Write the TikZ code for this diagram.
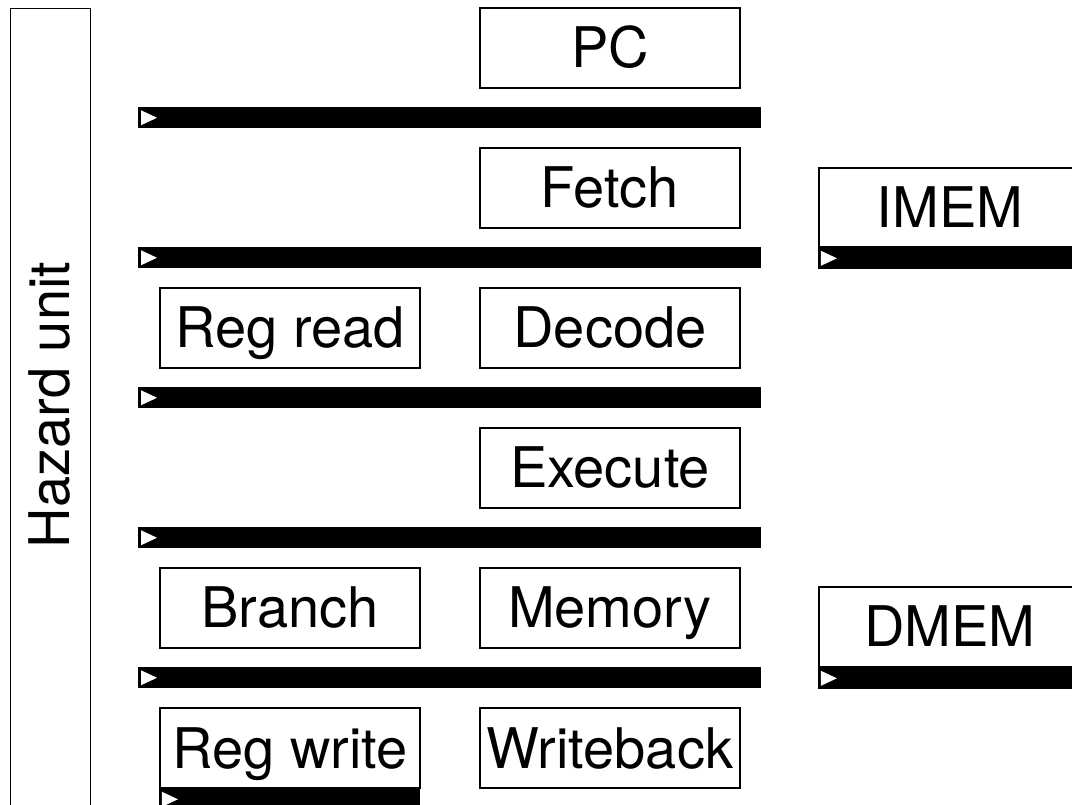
\documentclass[tikz,border=0pt]{standalone}
\usepackage{fontspec}
\setmainfont{TeX Gyre Heros}
\begin{document}
\begin{tikzpicture}[x=0.75pt,y=-0.75pt,
  big/.style={font=\fontsize{42}{48}\selectfont},
  stagebox/.style={big,draw,line width=0.8pt,minimum width=195pt,minimum height=60pt,
    inner sep=0pt,text height=30pt,text depth=0pt},
  membox/.style={stagebox,minimum width=196.5pt},
  regbar/.style={fill=black,inner sep=0pt,minimum width=467.25pt,minimum height=15.75pt,anchor=north west},
  clk/.style={fill=white}]
\clip (0,0) rectangle (1072,805);

% hazard unit spanning the full height
\node[draw,line width=0.8pt,anchor=north west,minimum width=60pt,minimum height=620pt,inner sep=0pt] (hz) at (10,8) {};
\node[big,rotate=90] (hzt) at (50,405) {Hazard unit};

% pipeline stages
\node[stagebox] (pc) at (610,48) {PC};
\node[stagebox] (fetch) at (610,188) {Fetch};
\node[stagebox] (regrd) at (290,328) {Reg read};
\node[stagebox] (decode) at (610,328) {Decode};
\node[stagebox] (exec) at (610,468) {Execute};
\node[stagebox] (branch) at (290,608) {Branch};
\node[stagebox] (mem) at (610,608) {Memory};
\node[stagebox] (regwr) at (290,748) {Reg write};
\node[stagebox] (wb) at (610,748) {Writeback};

% memories
\node[membox,minimum height=59.25pt] (imem) at (950,207.5) {IMEM};
\node[membox] (dmem) at (950,627) {DMEM};

% pipeline registers
\node[regbar] (r1) at (138,107) {};
\node[regbar] (r2) at (138,247) {};
\node[regbar] (r3) at (138,387) {};
\node[regbar] (r4) at (138,527) {};
\node[regbar] (r5) at (138,667) {};
\node[regbar,minimum width=196.5pt] (rim) at ([xshift=-0.4pt]imem.south west) {};
\node[regbar,minimum width=196.5pt] (rdm) at ([xshift=-0.4pt]dmem.south west) {};
\node[regbar,minimum width=195.75pt] (rrw) at ([xshift=-0.4pt]regwr.south west) {};

% clock markers
\foreach \r in {r1,r2,r3,r4,r5,rim,rdm,rrw}
  \fill[clk] ([shift={(3,-7.5)}]\r.west) -- ([shift={(3,7.5)}]\r.west) -- ([shift={(19,0)}]\r.west) -- cycle;
\end{tikzpicture}
\end{document}
